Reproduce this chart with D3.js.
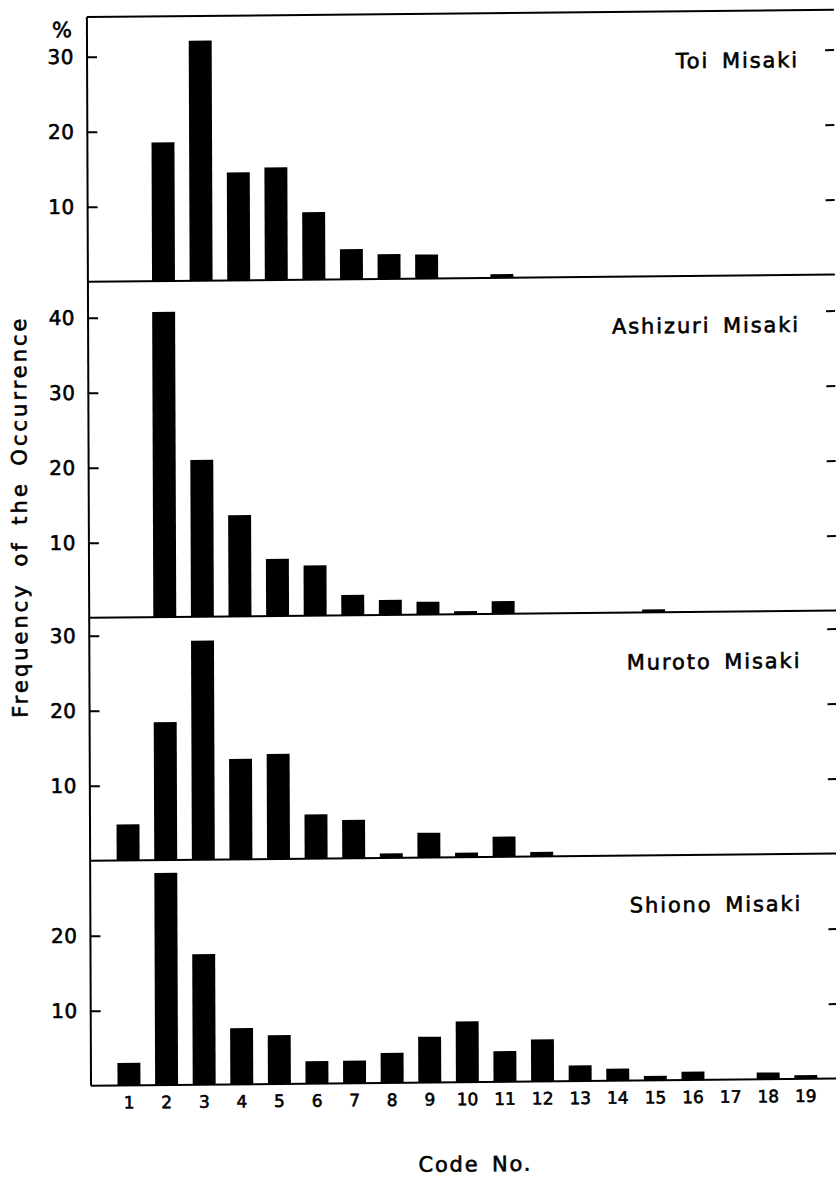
<!DOCTYPE html>
<html>
<head>
<meta charset="UTF-8">
<title>Frequency of the Occurrence by Code No.</title>
<script src="https://cdn.jsdelivr.net/npm/d3@7"></script>
<style>
 body { margin: 0; background: #fff; }
 svg text { font-family: "DejaVu Sans", sans-serif; fill: #000; stroke: #000; stroke-width: 0.6px; }
</style>
</head>
<body>
<svg width="836" height="1178"></svg>
<script>
// code numbers on the x axis
var codes = [1, 2, 3, 4, 5, 6, 7, 8, 9, 10, 11, 12, 13, 14, 15, 16, 17, 18, 19];

// station names, one panel each (top to bottom)
var stations = ["Toi Misaki", "Ashizuri Misaki", "Muroto Misaki", "Shiono Misaki"];

// frequency of occurrence (%) for codes 1..19
var toi      = [0, 18.5, 32.0, 14.4, 15.0, 9.0, 4.0, 3.3, 3.2, 0, 0.5, 0, 0, 0, 0, 0, 0, 0, 0];
var ashizuri = [0, 40.7, 20.9, 13.5, 7.6, 6.7, 2.7, 2.0, 1.7, 0.4, 1.7, 0, 0, 0, 0.4, 0, 0, 0, 0];
var muroto   = [4.8, 18.4, 29.2, 13.4, 14.0, 5.9, 5.1, 0.6, 3.3, 0.6, 2.7, 0.6, 0, 0, 0, 0, 0, 0, 0];
var shiono   = [3.0, 28.3, 17.4, 7.5, 6.5, 3.0, 3.0, 4.0, 6.1, 8.1, 4.1, 5.6, 2.1, 1.6, 0.6, 1.1, 0, 0.9, 0.5];

// y axis top of each panel (%) and its tick values
var yMax   = [35.3, 44.8, 32.4, 30];
var yTicks = [[10, 20, 30], [10, 20, 30, 40], [10, 20, 30], [10, 20]];

var series = [toi, ashizuri, muroto, shiono];

// layout
var plotLeft = 91, plotRight = 838, plotTop = 17, pxPerPct = 7.5;

var svg = d3.select("svg");
// the printed figure is scanned slightly askew
var g = svg.append("g")
  .attr("transform", "translate(91,1086) skewX(0.22) skewY(-0.55) translate(-91,-1086)");

var x = d3.scaleBand()
  .domain(codes)
  .range([110.2, 824.6])
  .paddingInner(0.39)
  .paddingOuter(0.195);

var y0 = plotTop;
var plotBottom;
series.forEach(function(vals, i) {
  var h = yMax[i] * pxPerPct;
  var y = d3.scaleLinear().domain([0, yMax[i]]).range([y0 + h, y0]);
  var p = g.append("g");

  var rows = vals.map(function(v, j) { return {code: codes[j], v: v}; })
                 .filter(function(d) { return d.v > 0; });

  p.selectAll("rect").data(rows).enter().append("rect")
    .attr("x", function(d) { return x(d.code); })
    .attr("width", x.bandwidth())
    .attr("y", function(d) { return y(d.v); })
    .attr("height", function(d) { return y(0) - y(d.v); })
    .attr("fill", "#000");

  // left axis, ticks pointing in
  var la = p.append("g")
    .attr("transform", "translate(" + plotLeft + ",0)")
    .call(d3.axisLeft(y).tickValues(yTicks[i]).tickSize(-10).tickPadding(13).tickFormat(d3.format("d")));
  la.select(".domain").remove();
  la.attr("font-family", null).attr("font-size", null);
  la.selectAll("line").attr("stroke-width", 2);
  la.selectAll("text").style("font-size", "20px").style("letter-spacing", "0.5px");

  // right axis, ticks only
  var ra = p.append("g")
    .attr("transform", "translate(" + plotRight + ",0)")
    .call(d3.axisRight(y).tickValues(yTicks[i]).tickSize(-9).tickFormat(""));
  ra.select(".domain").remove();
  ra.selectAll("line").attr("stroke-width", 2);

  // panel top line
  p.append("line")
    .attr("x1", plotLeft).attr("x2", plotRight)
    .attr("y1", y0).attr("y2", y0)
    .attr("stroke", "#000").attr("stroke-width", 2);

  // station name
  p.append("text")
    .attr("x", 803)
    .attr("y", y0 + 57)
    .attr("text-anchor", "end")
    .style("font-size", "21px")
    .style("letter-spacing", "1.9px")
    .style("word-spacing", "4px")
    .text(stations[i]);

  y0 += h;
  plotBottom = y0;
});

// baseline of the last panel
g.append("line")
  .attr("x1", plotLeft).attr("x2", plotRight)
  .attr("y1", plotBottom).attr("y2", plotBottom)
  .attr("stroke", "#000").attr("stroke-width", 2);

// left frame
g.append("line")
  .attr("x1", plotLeft).attr("x2", plotLeft)
  .attr("y1", plotTop).attr("y2", plotBottom)
  .attr("stroke", "#000").attr("stroke-width", 2);

// code numbers
var xa = g.append("g")
  .attr("transform", "translate(0," + plotBottom + ")")
  .call(d3.axisBottom(x).tickSize(0).tickPadding(11));
xa.select(".domain").remove();
xa.attr("font-family", null).attr("font-size", null);
xa.selectAll("text").style("font-size", "17px");

g.append("text")
  .attr("x", 66).attr("y", 37)
  .attr("text-anchor", "middle")
  .style("font-size", "21px")
  .text("%");

g.append("text")
  .attr("transform", "translate(29,516) rotate(-90)")
  .attr("text-anchor", "middle")
  .style("font-size", "21px")
  .style("letter-spacing", "3px")
  .style("word-spacing", "6px")
  .text("Frequency of the Occurrence");

g.append("text")
  .attr("x", 475).attr("y", 1175)
  .attr("text-anchor", "middle")
  .style("font-size", "21px")
  .style("letter-spacing", "1.8px")
  .style("word-spacing", "4px")
  .text("Code No.");
</script>
</body>
</html>
